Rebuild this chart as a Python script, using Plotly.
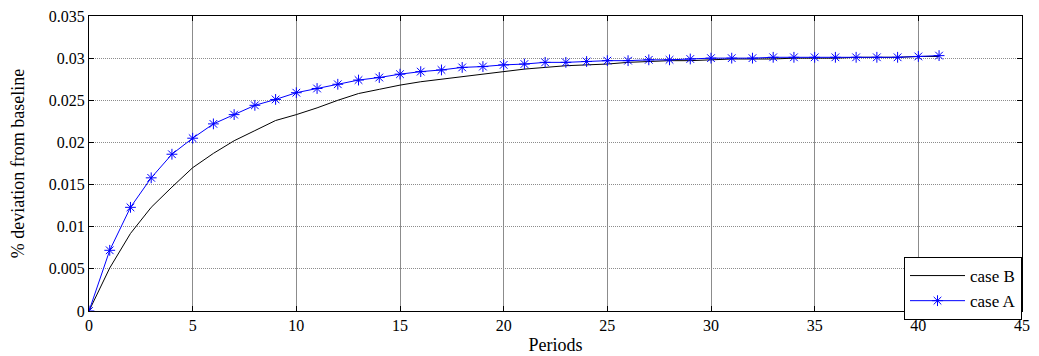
import plotly.graph_objects as go

periods = list(range(0, 42))

case_a = [0.0, 0.0072, 0.0123, 0.0158, 0.0186, 0.0205, 0.0222, 0.0233, 0.0244, 0.0251,
          0.0259, 0.0264, 0.0269, 0.0274, 0.0277, 0.0281, 0.0284, 0.0286, 0.0289, 0.0290,
          0.0292, 0.0293, 0.0295, 0.0295, 0.0296, 0.0297, 0.0297, 0.0298, 0.0298, 0.0299,
          0.0300, 0.0300, 0.0300, 0.0301, 0.0301, 0.0301, 0.0301, 0.0301, 0.0301, 0.0301,
          0.0302, 0.0303]

case_b = [0.0, 0.0051, 0.0092, 0.0123, 0.0147, 0.0170, 0.0187, 0.0202, 0.0214, 0.0226,
          0.0233, 0.0241, 0.0250, 0.0258, 0.0263, 0.0268, 0.0272, 0.0275, 0.0278, 0.0281,
          0.0284, 0.0287, 0.0289, 0.0291, 0.0292, 0.0293, 0.0295, 0.0296, 0.0297, 0.0297,
          0.0298, 0.0299, 0.0299, 0.0299, 0.0300, 0.0300, 0.0300, 0.0301, 0.0301, 0.0301,
          0.0302, 0.0302]

x_ticks = [0, 5, 10, 15, 20, 25, 30, 35, 40, 45]
y_ticks = [0, 0.005, 0.01, 0.015, 0.02, 0.025, 0.03, 0.035]
y_tick_labels = ["0", "0.005", "0.01", "0.015", "0.02", "0.025", "0.03", "0.035"]

FONT = "Liberation Serif"

fig = go.Figure()
fig.add_trace(go.Scatter(
    x=periods, y=case_b, mode="lines", name="case B",
    line=dict(color="black", width=1), legendgroup="b",
))
fig.add_trace(go.Scatter(
    x=periods, y=case_a, mode="lines+markers", name="case A",
    line=dict(color="#0000FF", width=1), legendgroup="a",
    marker=dict(symbol="asterisk-open", size=9, line=dict(color="#0000FF", width=1)),
))

axis_common = dict(
    showline=True, linecolor="black", linewidth=1, mirror="ticks",
    ticks="inside", ticklen=5, tickcolor="black",
    showgrid=True, gridcolor="#8c8c8c", gridwidth=1,
    zeroline=False, automargin=False, ticklabeloverflow="allow",
    tickfont=dict(family=FONT, size=16, color="black"),
)

# the page body has an 8px margin, so the figure is sized/offset to compensate
fig.update_layout(
    width=1031, height=348,
    margin=dict(l=81, r=17, t=8, b=45),
    paper_bgcolor="white", plot_bgcolor="white",
    font=dict(family=FONT, size=16, color="black"),
    showlegend=True,
    legend=dict(
        x=1.0, y=0.183, xanchor="right", yanchor="top",
        bgcolor="white", bordercolor="black", borderwidth=1,
        font=dict(family=FONT, size=17, color="black"),
        tracegroupgap=0, itemwidth=55, entrywidth=60,
    ),
)
fig.update_xaxes(
    range=[0, 45], tickvals=x_ticks, griddash="solid",
    title=dict(text="Periods", font=dict(family=FONT, size=18), standoff=5),
    **axis_common,
)
fig.update_yaxes(
    range=[0, 0.035], tickvals=y_ticks, ticktext=y_tick_labels, griddash="1px,1px",
    title=dict(text="% deviation from baseline", font=dict(family=FONT, size=18), standoff=19),
    **axis_common,
)

fig.write_html("out.html")
